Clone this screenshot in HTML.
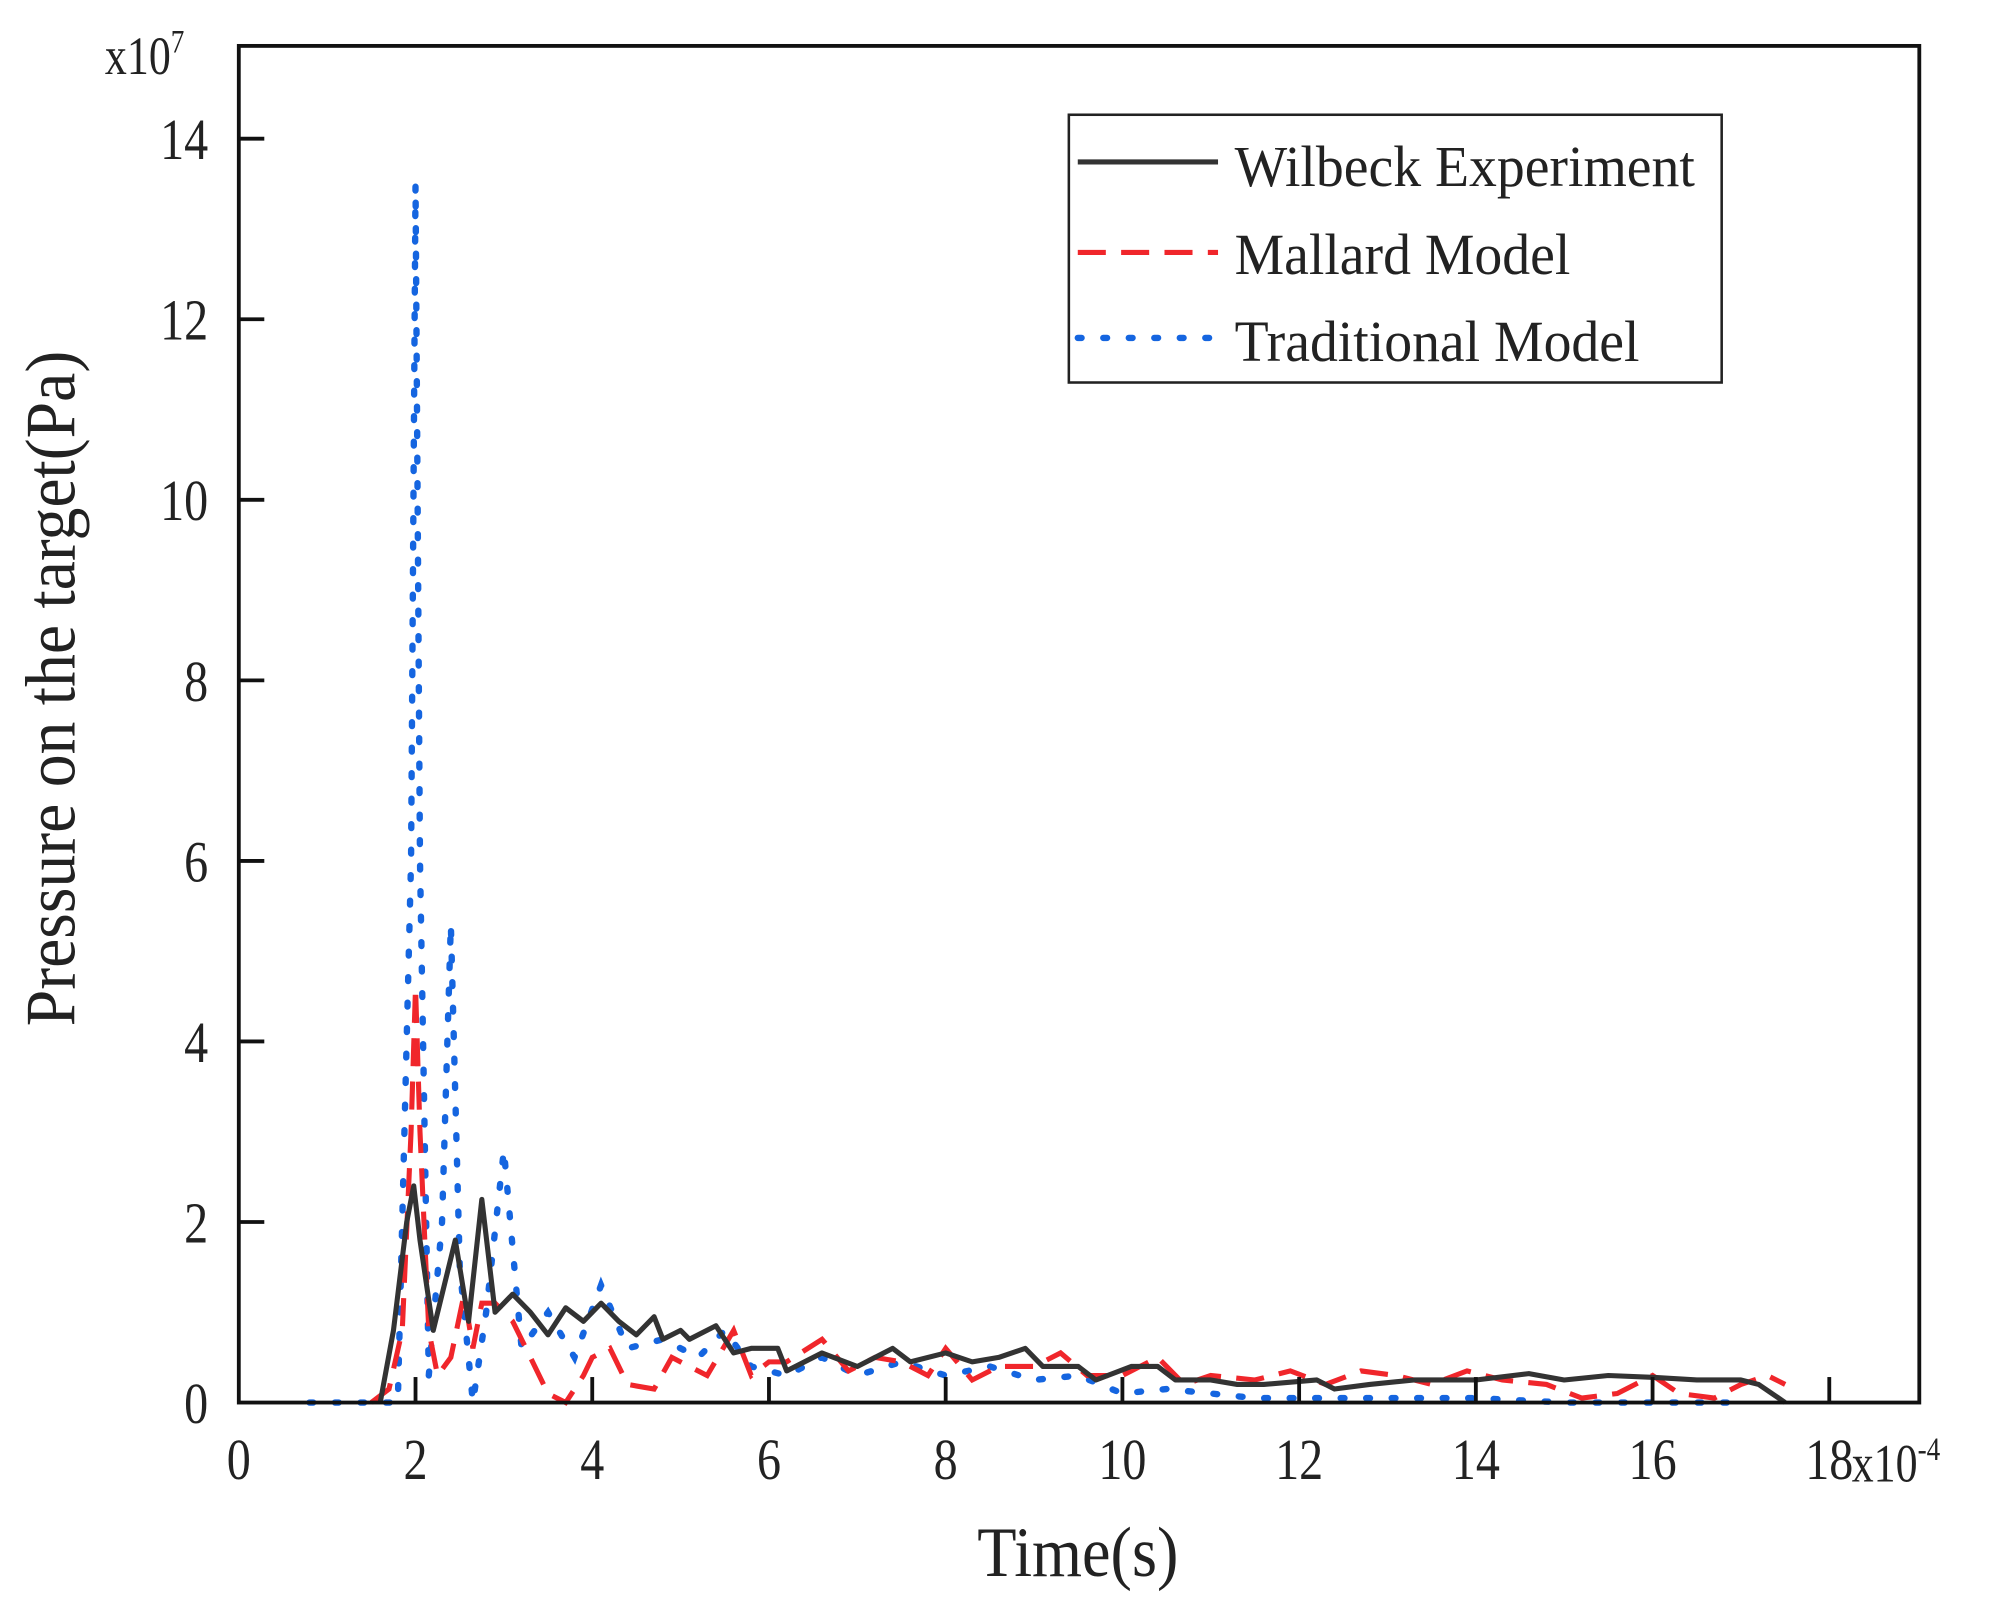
<!DOCTYPE html>
<html><head><meta charset="utf-8"><style>
html,body{margin:0;padding:0;background:#fff;}
svg{display:block;}
text{font-family:"Liberation Serif",serif;fill:#222;}
</style></head><body>
<svg id="s" width="2000" height="1604" viewBox="0 0 1568 1258" xmlns="http://www.w3.org/2000/svg">
<rect x="0" y="0" width="1568" height="1258" fill="#fff"/>
<g id="series"></g>
<rect x="187" y="36" width="1318" height="1064" fill="none" stroke="#111" stroke-width="3"/>
<g id="ticks" stroke="#111" stroke-width="3"></g>
<g id="labels" font-size="46"></g>
<text transform="translate(82,58) scale(0.82,1)" font-size="42">x10<tspan dy="-17" font-size="26">7</tspan></text>
<text transform="translate(1452,1162) scale(0.82,1)" font-size="42">x10<tspan dy="-17" font-size="26">-4</tspan></text>
<text transform="translate(845,1236) scale(0.9,1)" font-size="56" text-anchor="middle">Time(s)</text>
<text transform="translate(58,540) rotate(-90) scale(0.92,1)" font-size="56" text-anchor="middle">Pressure on the target(Pa)</text>
<rect x="838" y="90" width="512" height="210" fill="#fff" stroke="#222" stroke-width="2"/>
<line x1="845" y1="127" x2="955" y2="127" stroke="#333" stroke-width="4"/>
<line x1="845" y1="198" x2="955" y2="198" stroke="#f0262b" stroke-width="4" stroke-dasharray="22,12"/>
<line x1="845" y1="265" x2="955" y2="265" stroke="#1565e0" stroke-width="5" stroke-dasharray="3,17" stroke-linecap="round"/>
<text transform="translate(968,146) scale(0.95,1)" font-size="46">Wilbeck Experiment</text>
<text transform="translate(968,215) scale(0.95,1)" font-size="46">Mallard Model</text>
<text transform="translate(968,283) scale(0.95,1)" font-size="46">Traditional Model</text>
</svg>
<script>
var NS="http://www.w3.org/2000/svg";
function X(t){return 187+69.3*t;} function Y(p){return 1100-70.8*p;}
var tk=document.getElementById('ticks'),lb=document.getElementById('labels');
function el(p,tag,a,txt){var e=document.createElementNS(NS,tag);for(var k in a)e.setAttribute(k,a[k]);if(txt!==undefined)e.textContent=txt;p.appendChild(e);return e;}
for(var t=0;t<=18;t+=2){var x=X(t);if(t>0)el(tk,'line',{x1:x,y1:1100,x2:x,y2:1080});
 el(lb,'text',{transform:'translate('+x+',1160) scale(0.82,1)','text-anchor':'middle'},t);}
for(var p=0;p<=14;p+=2){var y=Y(p);if(p>0)el(tk,'line',{x1:187,y1:y,x2:207,y2:y});
 el(lb,'text',{transform:'translate(163,'+(y+16)+') scale(0.82,1)','text-anchor':'end'},p);}
var black=[[1.6,0],[1.75,0.8],[1.9,2.0],[1.98,2.4],[2.05,1.8],[2.2,0.8],[2.45,1.8],[2.6,0.9],[2.75,2.25],[2.9,1.0],[3.1,1.2],[3.3,1.0],[3.5,0.75],[3.7,1.05],[3.9,0.9],[4.1,1.1],[4.3,0.9],[4.5,0.75],[4.7,0.95],[4.8,0.7],[5.0,0.8],[5.1,0.7],[5.4,0.85],[5.6,0.55],[5.8,0.6],[6.1,0.6],[6.2,0.35],[6.6,0.55],[7.0,0.4],[7.4,0.6],[7.6,0.45],[8.0,0.55],[8.3,0.45],[8.6,0.5],[8.9,0.6],[9.1,0.4],[9.5,0.4],[9.7,0.25],[10.1,0.4],[10.4,0.4],[10.6,0.25],[11.0,0.25],[11.3,0.2],[11.6,0.2],[12.2,0.25],[12.4,0.15],[12.8,0.2],[13.3,0.25],[14.0,0.25],[14.6,0.32],[15.0,0.25],[15.5,0.3],[16.0,0.28],[16.5,0.25],[17.0,0.25],[17.2,0.2],[17.5,0]];
var red=[[1.5,0],[1.7,0.15],[1.85,0.8],[1.95,3],[2.0,4.6],[2.05,3],[2.15,0.8],[2.25,0.3],[2.4,0.5],[2.55,1.2],[2.65,0.6],[2.75,1.1],[2.9,1.1],[3.1,0.9],[3.3,0.5],[3.5,0.1],[3.7,0],[3.9,0.3],[4.0,0.5],[4.2,0.6],[4.4,0.2],[4.7,0.15],[4.9,0.5],[5.1,0.4],[5.3,0.3],[5.6,0.8],[5.8,0.3],[6.0,0.45],[6.2,0.45],[6.6,0.7],[6.9,0.35],[7.2,0.5],[7.5,0.45],[7.8,0.3],[8.0,0.6],[8.3,0.25],[8.6,0.4],[9.0,0.4],[9.3,0.55],[9.6,0.3],[10.0,0.3],[10.4,0.5],[10.7,0.2],[11.0,0.3],[11.5,0.25],[11.9,0.35],[12.3,0.2],[12.7,0.35],[13.1,0.3],[13.5,0.2],[13.9,0.35],[14.3,0.25],[14.8,0.2],[15.2,0.05],[15.6,0.1],[16.0,0.3],[16.3,0.1],[16.7,0.05],[17.0,0.2],[17.3,0.3],[17.5,0.2]];
var blue=[[0.8,0],[1.8,0],[1.95,6],[2.0,13.5],[2.05,6],[2.15,0.3],[2.3,2],[2.4,5.3],[2.5,1.5],[2.65,0],[2.8,1],[3.0,2.8],[3.2,0.6],[3.5,1],[3.8,0.5],[4.1,1.3],[4.4,0.6],[4.8,0.7],[5.2,0.5],[5.5,0.8],[5.8,0.4],[6.2,0.3],[6.6,0.5],[7.0,0.3],[7.5,0.45],[8.0,0.3],[8.5,0.4],[9.0,0.25],[9.5,0.3],[10.0,0.1],[10.5,0.15],[11.0,0.1],[11.5,0.05],[12,0.05],[13,0.05],[14,0.05],[15,0],[17,0]];
function pts(a){return a.map(function(q){return X(q[0]).toFixed(1)+','+Y(q[1]).toFixed(1);}).join(' ');}
var g=document.getElementById('series');
el(g,'polyline',{points:pts(blue),fill:'none',stroke:'#1565e0','stroke-width':5,'stroke-dasharray':'3,17','stroke-linecap':'round'});
el(g,'polyline',{points:pts(red),fill:'none',stroke:'#f0262b','stroke-width':4,'stroke-dasharray':'22,12'});
el(g,'polyline',{points:pts(black),fill:'none',stroke:'#333','stroke-width':4,'stroke-linejoin':'round'});
</script>
</body></html>
